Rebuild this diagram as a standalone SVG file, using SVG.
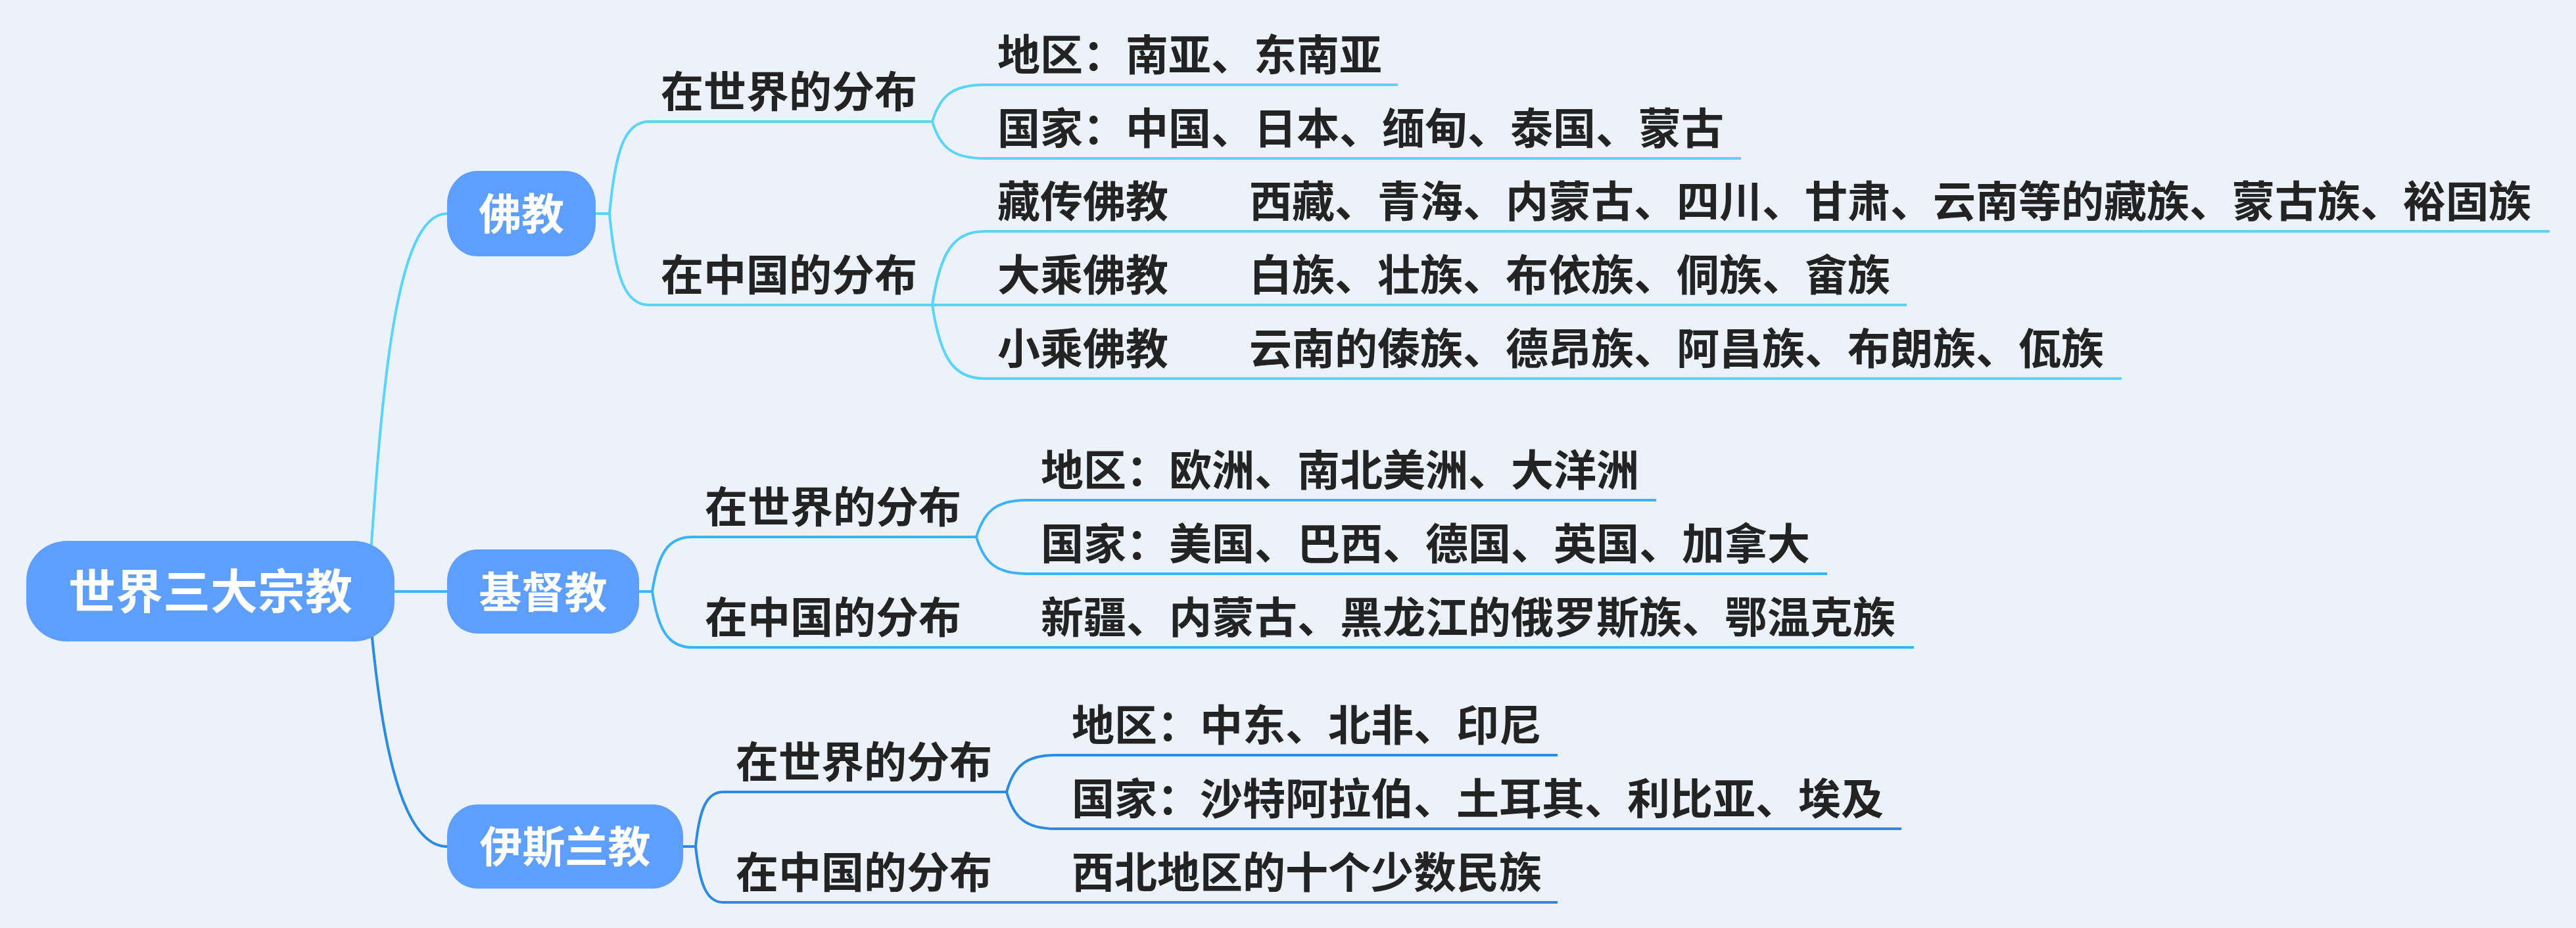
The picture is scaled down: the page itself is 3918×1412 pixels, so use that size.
<svg xmlns="http://www.w3.org/2000/svg" width="3918" height="1412" viewBox="0 0 3918 1412">
<style>
.bg{fill:#EBF2FA}
.box{fill:#5E9EFF}
.bt{font-family:"Noto Sans CJK SC","Noto Sans",sans-serif;font-weight:bold;fill:#FFFFFF;text-anchor:middle}
.t{font-family:"Noto Sans CJK SC","Noto Sans",sans-serif;font-weight:bold;font-size:65px;fill:#232323}
.c1{stroke:#5AD3FD;stroke-width:4;fill:none}
.c2{stroke:#3CB3F8;stroke-width:4;fill:none}
.c3{stroke:#2A8AE4;stroke-width:4;fill:none}
</style>
<rect class="bg" x="0" y="0" width="3918" height="1412"/>
<g id="connectors">
  <path class="c1" d="M560,900 C580,600 600,325 680,325"/>
  <path class="c2" d="M560,900 L680,900"/>
  <path class="c3" d="M560,900 C575,1100 605,1288 680,1288"/>
  <path class="c1" d="M906,325 H927"/>
  <path class="c1" d="M927,325 C936,227 951,185 987,185"/>
  <path class="c1" d="M927,325 C936,423 951,464 987,464"/>
  <path class="c1" d="M1418,185 C1430,145 1450,129 1497,129"/>
  <path class="c1" d="M1418,185 C1430,225 1450,241 1497,241"/>
  <path class="c1" d="M1418,464 C1430,384 1450,352 1497,352"/>
  <path class="c1" d="M1418,464 H1497"/>
  <path class="c1" d="M1418,464 C1430,544 1450,576 1497,576"/>
  <path class="c1" d="M1805,352 H1877"/>
  <path class="c1" d="M1805,464 H1877"/>
  <path class="c1" d="M1805,576 H1877"/>
  <path class="c2" d="M972,900 H992"/>
  <path class="c2" d="M992,900 C1001,842 1016,817 1053,817"/>
  <path class="c2" d="M992,900 C1001,958 1016,985 1053,985"/>
  <path class="c2" d="M1485,817 C1497,777 1516,761 1562,761"/>
  <path class="c2" d="M1485,817 C1497,857 1516,873 1562,873"/>
  <path class="c2" d="M1485,985 H1562"/>
  <path class="c3" d="M1039,1288 H1058"/>
  <path class="c3" d="M1058,1288 C1064,1230 1075,1205 1100,1205"/>
  <path class="c3" d="M1058,1288 C1064,1346 1075,1373 1100,1373"/>
  <path class="c3" d="M1531,1205 C1542,1165 1561,1149 1605,1149"/>
  <path class="c3" d="M1531,1205 C1542,1245 1561,1261 1605,1261"/>
  <path class="c3" d="M1531,1373 H1605"/>
</g>
<g id="root">
  <rect class="box" x="40" y="823" width="560" height="153" rx="62" ry="60"/>
  <text class="bt" x="320" y="926" font-size="72">世界三大宗教</text>
</g>
<g id="fojiao">
  <rect class="box" x="680" y="260" width="226" height="130" rx="46" ry="50"/>
  <text class="bt" x="793" y="349" font-size="65">佛教</text>
</g>
<g id="fj-world">
  <text class="t" x="1005" y="163">在世界的分布</text>
  <path class="c1" d="M987,185 H1418"/>
</g>
<g id="fj-world-region">
  <text class="t" x="1517" y="107">地区：南亚、东南亚</text>
  <path class="c1" d="M1497,129 H2126"/>
</g>
<g id="fj-world-country">
  <text class="t" x="1517" y="219">国家：中国、日本、缅甸、泰国、蒙古</text>
  <path class="c1" d="M1497,241 H2648"/>
</g>
<g id="fj-china">
  <text class="t" x="1005" y="442">在中国的分布</text>
  <path class="c1" d="M987,464 H1418"/>
</g>
<g id="fj-zang">
  <text class="t" x="1517" y="330">藏传佛教</text>
  <path class="c1" d="M1497,352 H1805"/>
</g>
<g id="fj-zang-v">
  <text class="t" x="1900" y="330">西藏、青海、内蒙古、四川、甘肃、云南等的藏族、蒙古族、裕固族</text>
  <path class="c1" d="M1877,352 H3878"/>
</g>
<g id="fj-da">
  <text class="t" x="1517" y="442">大乘佛教</text>
  <path class="c1" d="M1497,464 H1805"/>
</g>
<g id="fj-da-v">
  <text class="t" x="1900" y="442">白族、壮族、布依族、侗族、畲族</text>
  <path class="c1" d="M1877,464 H2900"/>
</g>
<g id="fj-xiao">
  <text class="t" x="1517" y="554">小乘佛教</text>
  <path class="c1" d="M1497,576 H1805"/>
</g>
<g id="fj-xiao-v">
  <text class="t" x="1900" y="554">云南的傣族、德昂族、阿昌族、布朗族、佤族</text>
  <path class="c1" d="M1877,576 H3227"/>
</g>
<g id="jidujiao">
  <rect class="box" x="680" y="836" width="292" height="128" rx="46" ry="48"/>
  <text class="bt" x="826" y="925" font-size="65">基督教</text>
</g>
<g id="jd-world">
  <text class="t" x="1072" y="795">在世界的分布</text>
  <path class="c2" d="M1053,817 H1485"/>
</g>
<g id="jd-world-region">
  <text class="t" x="1583" y="739">地区：欧洲、南北美洲、大洋洲</text>
  <path class="c2" d="M1562,761 H2519"/>
</g>
<g id="jd-world-country">
  <text class="t" x="1583" y="851">国家：美国、巴西、德国、英国、加拿大</text>
  <path class="c2" d="M1562,873 H2779"/>
</g>
<g id="jd-china">
  <text class="t" x="1072" y="963">在中国的分布</text>
  <path class="c2" d="M1053,985 H1485"/>
</g>
<g id="jd-china-v">
  <text class="t" x="1583" y="963">新疆、内蒙古、黑龙江的俄罗斯族、鄂温克族</text>
  <path class="c2" d="M1562,985 H2911"/>
</g>
<g id="yisilanjiao">
  <rect class="box" x="680" y="1224" width="359" height="128" rx="46" ry="48"/>
  <text class="bt" x="859.5" y="1312" font-size="65">伊斯兰教</text>
</g>
<g id="ys-world">
  <text class="t" x="1119" y="1183">在世界的分布</text>
  <path class="c3" d="M1100,1205 H1531"/>
</g>
<g id="ys-world-region">
  <text class="t" x="1630" y="1127">地区：中东、北非、印尼</text>
  <path class="c3" d="M1605,1149 H2369"/>
</g>
<g id="ys-world-country">
  <text class="t" x="1630" y="1239">国家：沙特阿拉伯、土耳其、利比亚、埃及</text>
  <path class="c3" d="M1605,1261 H2892"/>
</g>
<g id="ys-china">
  <text class="t" x="1119" y="1351">在中国的分布</text>
  <path class="c3" d="M1100,1373 H1531"/>
</g>
<g id="ys-china-v">
  <text class="t" x="1630" y="1351">西北地区的十个少数民族</text>
  <path class="c3" d="M1605,1373 H2369"/>
</g>
</svg>
